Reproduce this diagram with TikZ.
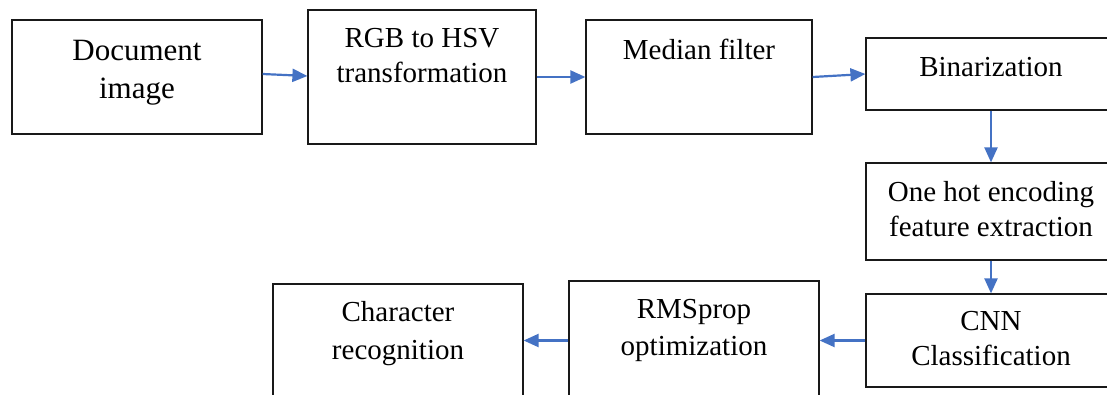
\documentclass[tikz,border=0pt]{standalone}
\usepackage{fontspec}
\setmainfont{Liberation Serif}
\usetikzlibrary{arrows.meta}
\definecolor{arrblue}{HTML}{4472C4}
\begin{document}
\begin{tikzpicture}[x=1pt,y=-1pt,
  box/.style={draw=black!90, line width=1.2pt, inner sep=0pt, rectangle},
  txt/.style={align=center, inner sep=0pt, anchor=base, font=\fontsize{29}{35}\selectfont},
  arr/.style={draw=arrblue, line width=2.2pt, -{Triangle[length=15pt,width=13pt]}}]
\useasboundingbox (0,0) rectangle (1107,394);
\clip (0,0) rectangle (1107,394);
\node[box, minimum width=250pt, minimum height=114pt] (doc) at (137,77) {};
\node[box, minimum width=228pt, minimum height=134pt] (rgb) at (422,77) {};
\node[box, minimum width=226pt, minimum height=114pt] (med) at (699,77) {};
\node[box, minimum width=250pt, minimum height=72pt] (bin) at (991,74) {};
\node[box, minimum width=250pt, minimum height=97pt] (one) at (991,211.5) {};
\node[box, minimum width=250pt, minimum height=93pt] (cnn) at (991,340.5) {};
\node[box, minimum width=250pt, minimum height=139pt] (rms) at (694,350.5) {};
\node[box, minimum width=250pt, minimum height=136pt] (chr) at (398,352) {};
\node[txt, font=\fontsize{31}{38}\selectfont] (tdoc) at (137,98) {Document\\image};
\node[txt] (trgb) at (422,82) {RGB to HSV\\transformation};
\node[txt] (tmed) at (699,59) {Median filter};
\node[txt] (tbin) at (991,76) {Binarization};
\node[txt] (tone) at (991,236) {One hot encoding\\feature extraction};
\node[txt] (tcnn) at (991,365) {CNN\\Classification};
\node[txt, font=\fontsize{29}{37}\selectfont] (trms) at (694,355) {RMSprop\\optimization};
\node[txt, font=\fontsize{29}{38}\selectfont] (tchr) at (398,359) {Character\\recognition};
\draw[arr] ([yshift=3pt]doc.east) -- ([yshift=1pt]rgb.west);
\draw[arr] (rgb.east) -- (med.west);
\draw[arr] (med.east) -- (bin.west);
\draw[arr] (bin.south) -- (one.north);
\draw[arr] (one.south) -- (cnn.north);
\draw[arr] (cnn.west) -- (rms.east |- cnn.west);
\draw[arr] (rms.west |- cnn.west) -- (chr.east |- cnn.west);
\end{tikzpicture}
\end{document}
